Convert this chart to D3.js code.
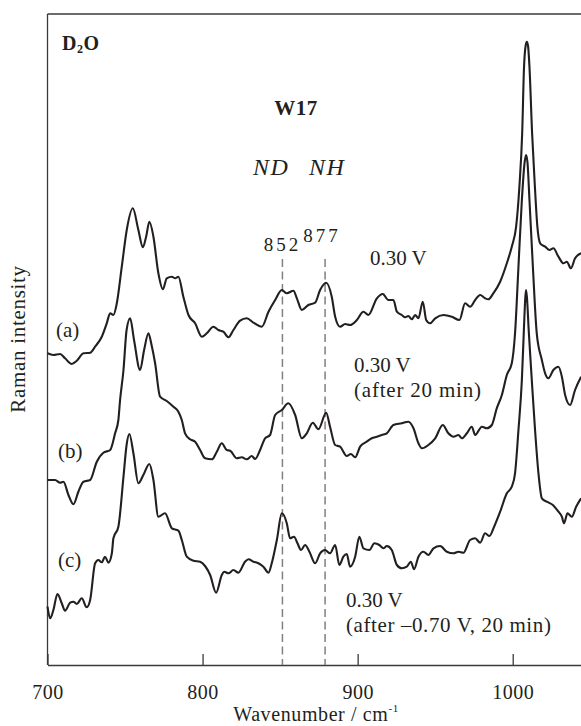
<!DOCTYPE html>
<html lang="en">
<head>
  <meta charset="UTF-8">
  <title>W17 Raman spectra</title>
  <script src="https://d3js.org/d3.v7.min.js"></script>
  <style>
    body { margin: 0; background: #fff; }
    svg text { font-family: "Liberation Serif", "Times New Roman", serif; fill: #231f20; }
    .trace { fill: none; stroke: #231f20; stroke-width: 2.1; stroke-linejoin: round; }
    .frame { stroke: #3a3a3a; stroke-width: 1.3; fill: none; }
  </style>
</head>
<body>
<svg width="581" height="726"></svg>
<script>
  // spectrum (a): 0.30 V
  let waveA = [700.0,703.8,708.1,711.3,715.7,718.9,723.2,727.5,730.7,735.0,738.2,740.4,742.5,744.7,747.9,751.1,755.0,758.6,761.5,763.6,
    765.7,768.3,771.5,774.4,776.9,780.2,782.3,784.4,787.6,790.9,795.2,799.5,802.7,807.0,810.2,813.4,816.7,819.9,824.2,828.5,
    832.8,838.2,842.5,846.8,851.1,854.3,858.6,860.8,864.0,868.2,872.6,875.8,879.7,883.3,885.5,888.7,891.9,895.1,899.5,903.7,
    906.9,912.4,916.2,919.8,923.1,925.3,928.5,930.6,932.7,934.9,937.1,939.2,942.0,944.2,946.7,950.0,955.3,960.7,965.6,969.3,
    972.5,975.8,979.0,982.2,984.3,987.5,991.9,996.2,999.4,1002.2,1004.3,1006.1,1007.3,1008.3,1009.1,1009.9,1010.8,1012.5,1014.3,1015.9,
    1017.7,1020.9,1023.7,1026.2,1029.5,1032.7,1034.9,1037.5,1040.2,1044.1];
  let intensA = [311.7,310,311,306.7,301,304.3,311.7,312.3,318.3,328.3,341.7,351.7,350,361.7,398.3,435,456.7,435,417.7,428.3,
    443.3,428.3,391.7,375.7,386.7,388.3,386.7,388.3,368.3,350,341.7,328.3,331.7,338.3,335,333.3,327.7,335,344.3,346.7,
    342.3,338.3,353.3,365,375,371.7,374.3,366.7,355,360,362.3,375,382.3,368.3,348.3,338.3,341,340,345,353.3,
    350,366.7,371,365,365,353.3,350,347.7,349,345.7,350,346.7,363.3,345,341.7,346.7,350,348.3,345,361.7,
    358.3,365,370,366.7,365.7,371.7,383.3,401.7,418.3,438.3,478.3,531.7,598.3,619,623.3,619,598.3,531.7,478.3,438.3,
    421.7,418.3,415,416.7,408.3,401.7,403.3,396.7,406.7,411.7];

  // spectrum (b): 0.30 V after 20 min
  let waveB = [700.0,704.9,708.1,710.3,713.5,716.7,719.9,723.2,727.5,731.8,736.0,740.4,743.6,745.7,746.8,749.0,751.0,753.3,755.8,759.7,
    762.3,765.1,767.1,769.4,772.6,776.9,781.2,784.4,786.6,788.7,792.0,795.2,798.4,801.6,806.0,809.2,812.4,815.6,817.8,822.1,
    825.3,828.5,831.7,833.9,837.1,840.3,843.5,846.8,851.1,855.3,859.7,864.0,867.2,871.1,874.7,879.7,882.2,885.5,888.7,893.0,
    895.6,898.4,901.6,905.9,909.1,912.4,915.6,918.8,923.1,928.5,932.7,936.0,939.2,941.4,945.6,950.0,954.9,958.5,961.8,965.0,
    967.2,970.4,973.6,975.8,980.1,983.3,986.5,989.7,993.0,996.2,999.4,1001.5,1003.7,1005.9,1007.7,1008.6,1009.5,1010.8,1013.0,1015.5,
    1018.8,1020.9,1023.0,1026.2,1029.5,1031.7,1033.8,1037.0,1040.2,1044.1];
  let intensB = [185,185,182.3,183.3,170,160.7,173.3,183.3,185,203.3,212.3,215,231.7,245,265,295,335,346.7,325,295,
    315,331.7,320,301.7,268.3,264,258.3,253.3,245,231.7,225.7,223.3,215,206.7,205.7,213.3,221.7,215,214.3,206.7,
    207.7,205.7,209,206,215,226.7,230,250,255,261.7,250,226.7,231.7,242.3,235.7,252.3,238.3,220,218.3,209,
    211,207.7,218.3,223.3,226.7,228.3,230,231.7,240,241.7,243.3,236.7,221.7,216.7,220,226.7,240,231.7,228.3,230,
    226.7,231.7,238.3,230,238.3,236.7,240,256.7,270,290,301.7,331.7,398.3,465,503,510,503,465,398.3,331.7,
    305,291.7,286.7,295,298.3,288.3,270,260,275,288.3];

  // spectrum (c): 0.30 V after -0.70 V, 20 min
  let waveC = [700.0,701.7,703.8,706.4,709.2,711.3,714.6,716.7,718.9,722.1,725.3,727.5,730.7,732.8,735.0,737.1,739.3,741.5,742.5,745.7,
    749.0,751.0,752.8,755.4,758.6,761.8,765.7,768.3,771.5,775.8,780.2,784.4,786.6,789.8,794.1,798.4,801.6,804.9,808.7,812.4,
    813.9,816.7,819.9,823.1,827.4,829.6,832.8,836.0,839.2,842.5,844.6,847.9,851.1,854.3,856.4,859.0,861.2,863.5,866.1,868.9,
    872.6,875.8,879.0,882.2,885.5,888.2,890.8,893.0,895.1,898.4,901.1,903.7,907.6,910.8,914.0,916.6,918.8,922.0,925.3,928.5,
    931.7,934.3,936.4,939.2,942.4,945.6,948.9,953.2,957.5,961.8,965.0,968.2,972.5,975.8,979.0,982.2,985.0,988.0,991.9,996.2,
    999.4,1001.5,1003.7,1005.9,1007.2,1008.1,1008.6,1009.2,1010.3,1012.3,1014.4,1016.6,1018.8,1022.0,1025.9,1029.5,1031.7,1033.1,1035.3,1038.1,
    1040.9,1044.1];
  let intensC = [58.3,46.7,55,71,61.7,54.3,62.3,63.3,61,66.7,57.7,65,101.7,105,102.7,108.3,102.3,111.7,126.7,138.3,
    188.3,220,231,211.7,181.7,190,201,185,148.3,151.7,136.7,134.3,125,108.3,104.3,103.3,99,90,72.3,90,
    93.3,91.7,95,92.3,103.3,105.7,103.3,101.7,98.3,92.3,101.7,125,151.7,141.7,126.7,128.3,121.7,115,120,113.3,
    101.7,111.7,115,111.7,120,100,108.3,111,98.3,108.3,128.3,116.7,115,121.7,120,116.7,119,115,100,96.7,
    98.3,103.3,95.7,108.3,113.3,110,116.7,119,113.3,111.7,113.3,112.3,125,126.7,122.3,131.7,129,138.3,153.3,171.7,
    178.3,191.7,235,285,335,367,375,367,335,285,235,191.7,166.7,163.3,160,153.3,148.3,141.7,151.7,148.3,
    158.3,166.7];

  let xTicks = [700, 800, 900, 1000];
  let markerLines = [851.5, 879];          // dashed guides
  let markerLabels = ["852", "877"];

  let svg = d3.select("svg");
  let padLeft = 47.5, padRight = 582.5, padTop = 14, padBottom = 665;

  let x = d3.scaleLinear().domain([700, 1045]).range([padLeft, padRight]);
  let y = d3.scaleLinear().domain([0, 651]).range([padBottom, padTop]);

  // frame: left, top (bottom comes from the axis)
  svg.append("line").attr("class", "frame")
    .attr("x1", padLeft).attr("y1", padTop).attr("x2", padLeft).attr("y2", padBottom);
  svg.append("line").attr("class", "frame")
    .attr("x1", padLeft).attr("y1", padTop).attr("x2", 581).attr("y2", padTop);

  let xAxis = d3.axisBottom(x).tickValues(xTicks).tickSizeInner(-11).tickSizeOuter(0).tickFormat(d3.format("d"));
  let gx = svg.append("g").attr("transform", `translate(0,${padBottom})`).call(xAxis);
  gx.select(".domain").attr("stroke", "#3a3a3a").attr("stroke-width", 1.3);
  gx.selectAll(".tick line").attr("stroke", "#3a3a3a").attr("stroke-width", 1.3);
  gx.selectAll(".tick text")
    .attr("y", 33.5).attr("dy", null)
    .style("font-family", "Liberation Serif").style("font-size", "20px")
    .style("letter-spacing", "0.5px").attr("fill", "#231f20");

  // dashed guide lines
  svg.selectAll(".guide").data(markerLines).enter().append("line")
    .attr("x1", d => x(d)).attr("x2", d => x(d))
    .attr("y1", 259).attr("y2", padBottom)
    .attr("stroke", "#808080").attr("stroke-width", 1.5)
    .attr("stroke-dasharray", "8,4.5");

  let line = d3.line().x(d => x(d[0])).y(d => y(d[1])).curve(d3.curveMonotoneX);
  let series = [
    d3.zip(waveA, intensA),
    d3.zip(waveB, intensB),
    d3.zip(waveC, intensC)
  ];
  svg.selectAll(".trace").data(series).enter().append("path")
    .attr("class", "trace").attr("d", line);

  // text annotations
  function label(tx, ty, str, size, opts) {
    opts = opts || {};
    let t = svg.append("text").attr("x", tx).attr("y", ty)
      .style("font-size", size + "px").text(str);
    if (opts.anchor) t.attr("text-anchor", opts.anchor);
    if (opts.weight) t.style("font-weight", opts.weight);
    if (opts.italic) t.style("font-style", "italic");
    if (opts.spacing) t.style("letter-spacing", opts.spacing + "px");
    return t;
  }

  let d2o = svg.append("text").attr("x", 62).attr("y", 50)
    .style("font-size", "20px").style("font-weight", "bold").style("letter-spacing", "0.5px");
  d2o.append("tspan").text("D");
  d2o.append("tspan").text("2").style("font-size", "12px").attr("dy", 3);
  d2o.append("tspan").text("O").attr("dy", -3);

  label(296, 115, "W17", 21, {anchor: "middle", weight: "bold", spacing: 0.5});
  label(253, 175, "ND", 24, {italic: true, spacing: 1.5});
  label(309, 175, "NH", 24, {italic: true, spacing: 1.5});

  label(x(851.5), 251, markerLabels[0], 19, {anchor: "middle", spacing: 3});
  label(x(877), 242, markerLabels[1], 19, {anchor: "middle", spacing: 3});

  label(370, 265, "0.30 V", 21);
  label(354, 372, "0.30 V", 21);
  label(354, 397, "(after 20 min)", 21, {spacing: 0.8});
  label(346, 607, "0.30 V", 21);
  label(346, 632, "(after \u20130.70 V, 20 min)", 21, {spacing: 0.6});

  label(56, 337, "(a)", 21);
  label(58, 458, "(b)", 21);
  label(58, 567, "(c)", 21);

  svg.append("text").attr("transform", "translate(25,339) rotate(-90)")
    .attr("text-anchor", "middle").style("font-size", "21px").style("letter-spacing", "0.7px")
    .text("Raman intensity");

  let xt = svg.append("text").attr("x", 316).attr("y", 721.2)
    .attr("text-anchor", "middle").style("font-size", "20px").style("letter-spacing", "0.6px");
  xt.append("tspan").text("Wavenumber / cm");
  xt.append("tspan").text("-1").style("font-size", "11px").attr("dy", -9);
</script>
</body>
</html>
